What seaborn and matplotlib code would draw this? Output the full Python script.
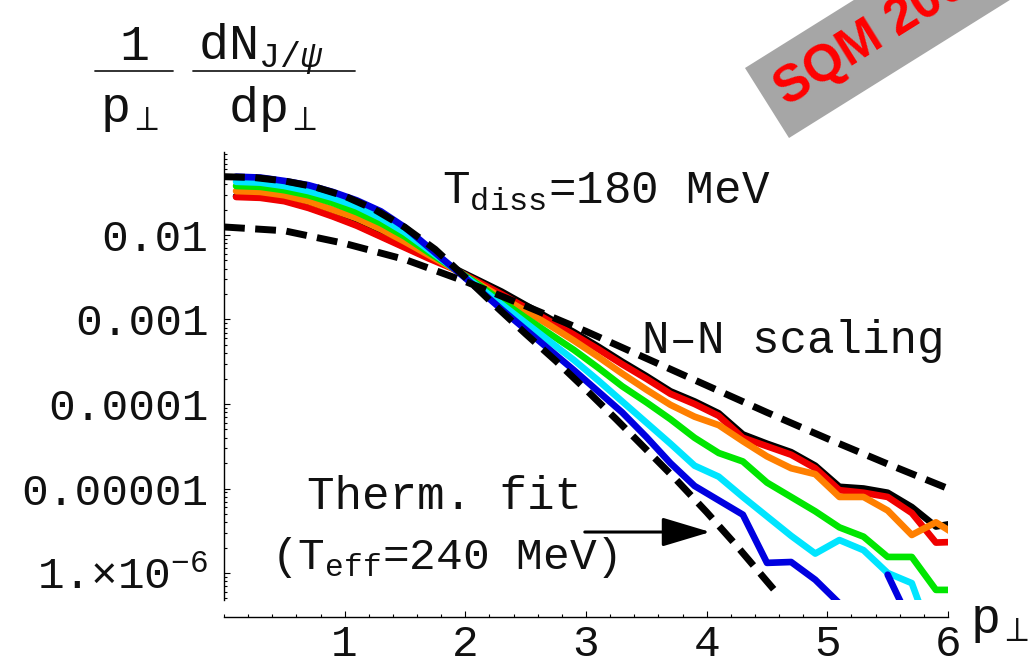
import numpy as np
import pandas as pd
import matplotlib
matplotlib.use("Agg")
import matplotlib.pyplot as plt
import seaborn as sns
from matplotlib.patches import Polygon
from matplotlib.lines import Line2D
from matplotlib.ticker import LogLocator, NullFormatter, FixedLocator

# ---------------- data ----------------
# transverse-momentum bin centres (GeV)
pt_bins = [0.1, 0.3, 0.5, 0.7, 0.9, 1.1, 1.3, 1.5, 1.7, 1.9,
           2.1, 2.3, 2.5, 2.7, 2.9, 3.1, 3.3, 3.5, 3.7, 3.9,
           4.1, 4.3, 4.5, 4.7, 4.9, 5.1, 5.3, 5.5, 5.7, 5.9, 6.1]

# log10 of 1/pT dN/dpT for the simulated spectra (nan = empty bin)
log_black = [-1.54, -1.55, -1.59, -1.67, -1.77, -1.88, -2.01, -2.14, -2.27, -2.39,
             -2.53, -2.67, -2.83, -2.99, -3.15, -3.32, -3.50, -3.67, -3.85, -3.97,
             -4.11, -4.36, -4.47, -4.57, -4.73, -4.98, -5.00, -5.05, -5.22, -5.45, -5.40]
log_red = [-1.55, -1.56, -1.60, -1.68, -1.78, -1.89, -2.02, -2.15, -2.28, -2.40,
           -2.55, -2.70, -2.86, -3.02, -3.18, -3.35, -3.53, -3.70, -3.88, -4.00,
           -4.14, -4.40, -4.50, -4.60, -4.76, -5.02, -5.05, -5.10, -5.29, -5.64, -5.63]
log_orange = [-1.48, -1.49, -1.53, -1.60, -1.70, -1.80, -1.93, -2.08, -2.24, -2.40,
              -2.57, -2.74, -2.90, -3.07, -3.25, -3.44, -3.64, -3.83, -4.01, -4.15,
              -4.25, -4.44, -4.62, -4.76, -4.83, -5.10, -5.10, -5.26, -5.55, -5.40, -5.58]
log_green = [-1.42, -1.43, -1.47, -1.53, -1.62, -1.73, -1.86, -2.02, -2.21, -2.39,
             -2.58, -2.78, -2.98, -3.17, -3.36, -3.57, -3.79, -3.98, -4.18, -4.40,
             -4.58, -4.68, -4.93, -5.10, -5.27, -5.46, -5.57, -5.81, -5.81, -6.20, -6.20]
log_cyan = [-1.37, -1.38, -1.42, -1.48, -1.56, -1.66, -1.80, -1.97, -2.18, -2.39,
            -2.60, -2.82, -3.04, -3.26, -3.48, -3.72, -3.97, -4.22, -4.47, -4.73,
            -4.86, -5.10, -5.33, -5.56, -5.77, -5.61, -5.73, -6.00, -6.12, -6.90, -7.00]
log_blue = [-1.31, -1.32, -1.36, -1.41, -1.49, -1.59, -1.72, -1.91, -2.15, -2.39,
            -2.63, -2.88, -3.12, -3.36, -3.60, -3.85, -4.10, -4.39, -4.70, -4.97,
            -5.14, -5.31, -5.88, -5.87, -6.08, -6.36, np.nan, -6.02, -6.62, -7.00, -7.20]

series_names = ["black", "red", "orange", "green", "cyan", "blue"]
series_logs = [log_black, log_red, log_orange, log_green, log_cyan, log_blue]
series_colors = ["#000000", "#f00000", "#ff7f00", "#00e600", "#00e5ff", "#0000e0"]

# thermal fit, T_eff = 240 MeV
thermal_pt = [0.0, 0.25, 0.5, 0.75, 1.0, 1.25, 1.5, 1.75, 2.0, 2.25, 2.5, 2.75,
              3.0, 3.25, 3.5, 3.75, 4.0, 4.25, 4.5, 4.56]
thermal_log = [-1.31, -1.32, -1.36, -1.43, -1.54, -1.70, -1.91, -2.17, -2.50, -2.84,
               -3.17, -3.49, -3.83, -4.18, -4.54, -4.90, -5.28, -5.68, -6.10, -6.20]

# N-N scaling
nn_pt = [0.0, 0.5, 1.0, 1.5, 2.0, 2.5, 3.0, 3.5, 4.0, 4.5, 5.0, 5.5, 6.0]
nn_log = [-1.905, -1.95, -2.10, -2.29, -2.55, -2.84, -3.14, -3.46, -3.78, -4.10,
          -4.41, -4.71, -5.00]

y_tick_values = [1e-6, 1e-5, 1e-4, 1e-3, 1e-2]
y_tick_labels = [r"1.$\times$10$^{-6}$", "0.00001", "0.0001", "0.001", "0.01"]
x_tick_values = [1, 2, 3, 4, 5, 6]

# ---------------- style ----------------
sns.set_theme(style="white")
plt.rcParams["font.family"] = ["Liberation Mono", "DejaVu Sans"]
plt.rcParams["mathtext.fontset"] = "custom"
plt.rcParams["mathtext.rm"] = "Liberation Mono"
plt.rcParams["mathtext.it"] = "Liberation Mono:italic"
plt.rcParams["mathtext.bf"] = "Liberation Mono:bold"

W, H = 1032, 667
fig = plt.figure(figsize=(W / 100, H / 100), dpi=100)
fig.patch.set_facecolor("white")


def fpx(x, y):
    return (x / W, 1 - y / H)


ax = fig.add_axes([224 / W, 1 - 600 / H, (948 - 224) / W, (600 - 152) / H])
ax.set_facecolor("white")

# ---------------- curves ----------------
# a spectrum is split into separate pieces wherever a bin is empty
rows = []
for name, logs in zip(series_names, series_logs):
    piece = 0
    for p, v in zip(pt_bins, logs):
        if np.isnan(v):
            piece += 1
            continue
        rows.append({"pt": p, "val": 10.0 ** v, "model": name, "piece": piece})
df = pd.DataFrame(rows)

sns.lineplot(data=df, x="pt", y="val", hue="model", units="piece",
             hue_order=series_names,
             palette=dict(zip(series_names, series_colors)), linewidth=4.8,
             estimator=None, sort=False, legend=False, ax=ax)

dash = (0, (3.0, 1.5))
sns.lineplot(x=thermal_pt, y=[10.0 ** v for v in thermal_log], color="black",
             linewidth=5.0, linestyle=dash, estimator=None, sort=False, ax=ax)
sns.lineplot(x=nn_pt, y=[10.0 ** v for v in nn_log], color="black",
             linewidth=5.0, linestyle=dash, estimator=None, sort=False, ax=ax)

# ---------------- axes ----------------
ax.set_yscale("log")
ax.set_xlim(0, 6)
ax.set_ylim(10 ** -6.3195, 10 ** -1.0178)

for s in ["top", "right"]:
    ax.spines[s].set_visible(False)
for s in ["left", "bottom"]:
    ax.spines[s].set_color("black")
    ax.spines[s].set_linewidth(1.0)
ax.spines["bottom"].set_position(("outward", 12.2))

ax.xaxis.set_major_locator(FixedLocator(x_tick_values))
ax.xaxis.set_minor_locator(FixedLocator([i / 5 for i in range(0, 31)]))
ax.set_xticklabels([str(v) for v in x_tick_values])
ax.yaxis.set_major_locator(FixedLocator(y_tick_values))
ax.set_yticklabels(y_tick_labels)
ax.yaxis.set_minor_locator(LogLocator(base=10, subs=np.arange(2, 10), numticks=20))
ax.yaxis.set_minor_formatter(NullFormatter())

ax.tick_params(axis="both", which="both", direction="in", color="black",
               bottom=True, left=True, top=False, right=False, width=0.8)
ax.tick_params(axis="both", which="major", length=4.0, labelsize=32)
ax.tick_params(axis="both", which="minor", length=2.2)
ax.tick_params(axis="y", which="major", pad=11)
ax.tick_params(axis="x", which="major", pad=5)
for lab in ax.get_xticklabels() + ax.get_yticklabels():
    lab.set_color("#111111")
ax.set_xlabel("")
ax.set_ylabel("")

# ---------------- annotations ----------------
txt_kw = dict(color="#111111", fontsize=33)
ax.text(1.81, 10 ** -1.49, r"T$_{\mathrm{diss}}$=180 MeV", ha="left", va="center", **txt_kw)
ax.text(4.72, 10 ** -3.25, "N\u2013N scaling", ha="center", va="center", **txt_kw)
ax.text(1.83, 10 ** -5.10, "Therm. fit", ha="center", va="center", **txt_kw)
ax.text(1.82, 10 ** -5.82, r"(T$_{\mathrm{eff}}$=240 MeV)", ha="center", va="center",
        color="#111111", fontsize=32)
ax.annotate("", xy=(4.03, 10 ** -5.515), xytext=(2.99, 10 ** -5.515),
            arrowprops=dict(arrowstyle="-|>,head_length=1.5,head_width=0.45",
                            mutation_scale=20, lw=2.2, color="black",
                            shrinkA=0, shrinkB=0))

lab_kw = dict(color="#111111", fontsize=36)
# x-axis label at the right end
fig.text(*fpx(970, 633), r"p$_{\perp}$", ha="left", va="baseline", **lab_kw)

# y-axis label written as a product of fractions
fig.text(*fpx(134, 60), "1", ha="center", va="baseline", **lab_kw)
fig.text(*fpx(100, 122), r"p$_{\perp}$", ha="left", va="baseline", **lab_kw)
fig.text(*fpx(198, 60), r"dN$_{\mathrm{J/}\psi}$", ha="left", va="baseline", **lab_kw)
fig.text(*fpx(228, 122), r"dp$_{\perp}$", ha="left", va="baseline", **lab_kw)
for x0, x1 in [(95, 173), (193, 355)]:
    fig.add_artist(Line2D([x0 / W, x1 / W], [1 - 71 / H, 1 - 71 / H],
                          transform=fig.transFigure, color="#222222", lw=1.3))

# conference banner in the corner
ang = np.deg2rad(32)
ux, uy = np.cos(ang), -np.sin(ang)
p0, p1 = (789, 138), (745, 68)
L = 450
corners = [p0, p1, (p1[0] + L * ux, p1[1] + L * uy), (p0[0] + L * ux, p0[1] + L * uy)]
fig.add_artist(Polygon([fpx(*c) for c in corners], closed=True,
                       transform=fig.transFigure, facecolor="#a6a6a6",
                       edgecolor="none"))
fig.text(*fpx(780, 95), "SQM 2006", rotation=32, rotation_mode="anchor",
         ha="left", va="center", color="#ff0000", fontsize=37,
         fontweight="bold", family="Liberation Sans")

fig.savefig("out.png", dpi=100)
